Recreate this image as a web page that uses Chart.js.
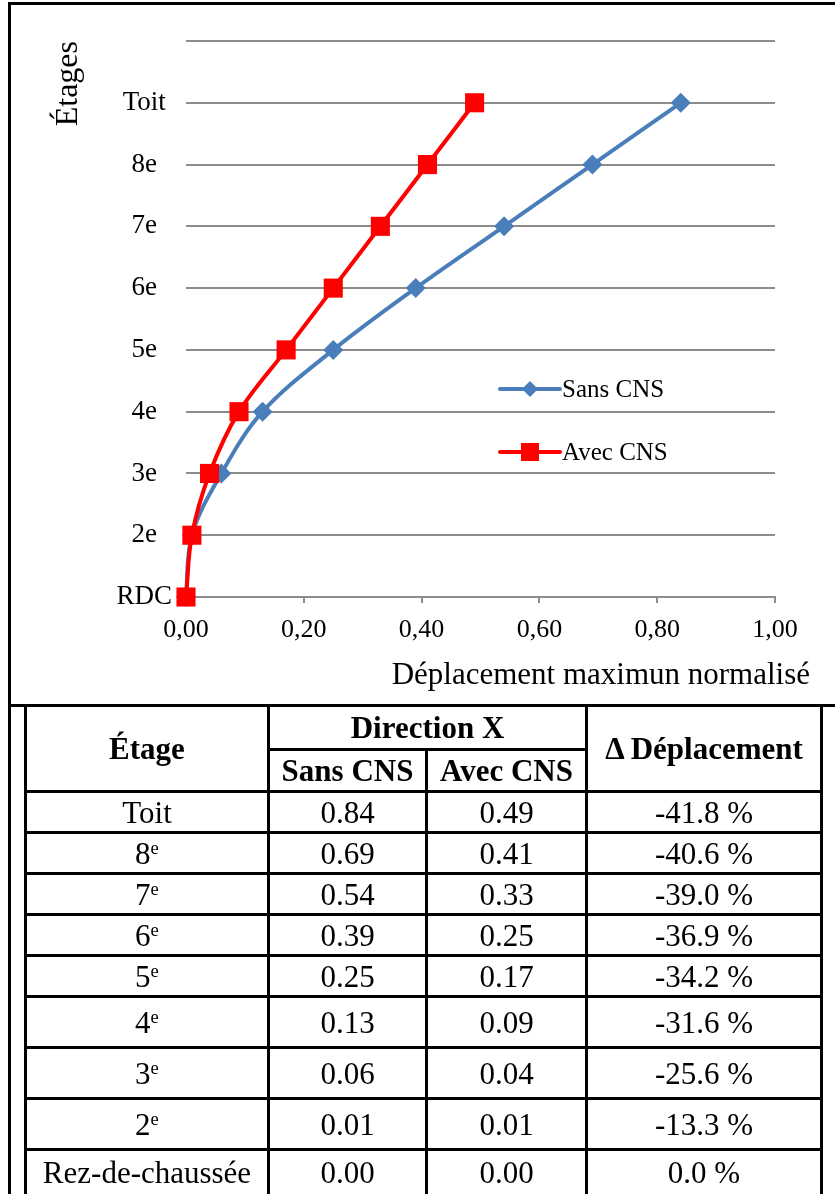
<!DOCTYPE html>
<html>
<head>
<meta charset="utf-8">
<script src="https://cdn.jsdelivr.net/npm/chart.js@4/dist/chart.umd.min.js"></script>
<style>
  body { margin: 0; background: #fff; width: 835px; height: 1194px; overflow: hidden; position: relative; font-family: 'Liberation Serif', 'Times New Roman', serif; }
  #chart_box { position: absolute; left: 0; top: 0; width: 835px; height: 704px; }
  #frame { position: absolute; left: 8px; top: 2px; width: 900px; height: 1300px; border-left: 3px solid #000; border-top: 3px solid #000; }
  #frame_bottom { position: absolute; left: 8px; top: 704px; width: 900px; height: 3px; background: #000; }
  #data_table { position: absolute; left: 24px; top: 704px; border-collapse: collapse; table-layout: fixed; width: 796px; font-size: 31px; }
  #data_table td, #data_table th { border: 3px solid #000; text-align: center; padding: 0; line-height: 1; }
  #data_table th { font-weight: bold; }
  #data_table sup { font-size: 60%; vertical-align: 0.55em; line-height: 0; }
  .h1 { height: 44px; }
  .h2 { height: 42px; }
  .row { height: 41px; }
  .tall { height: 51px; }
  .last { height: 46px; }
</style>
</head>
<body>
<div id="chart_box"><canvas id="drift_chart" width="835" height="704"></canvas></div>
<div id="frame"></div>
<div id="frame_bottom"></div>
<table id="data_table">
  <colgroup><col style="width:243px"><col style="width:158px"><col style="width:160px"><col style="width:235px"></colgroup>
  <thead>
    <tr class="h1"><th rowspan="2">Étage</th><th colspan="2">Direction X</th><th rowspan="2">Δ Déplacement</th></tr>
    <tr class="h2"><th>Sans CNS</th><th>Avec CNS</th></tr>
  </thead>
  <tbody id="table_body"></tbody>
</table>
<script>
// floors, bottom to top (chart axis)
var floorLabels = ['RDC', '2e', '3e', '4e', '5e', '6e', '7e', '8e', 'Toit'];
// same floors, top to bottom (table)
var tableFloors = ['Toit', '8e', '7e', '6e', '5e', '4e', '3e', '2e', 'Rez-de-chaussée'];

// normalised max displacement, RDC -> Toit
var sansCNS = [0.00, 0.01, 0.06, 0.13, 0.25, 0.39, 0.54, 0.69, 0.84];
var avecCNS = [0.00, 0.01, 0.04, 0.09, 0.17, 0.25, 0.33, 0.41, 0.49];

// delta displacement (%), Toit -> RDC
var deltaPct = [-41.8, -40.6, -39.0, -36.9, -34.2, -31.6, -25.6, -13.3, 0.0];

var xTicks = [0, 0.2, 0.4, 0.6, 0.8, 1.0];

var blue = '#4a7ebb';
var red = '#ff0000';
var grid_grey = '#8c8c8c';
var serif = "'Liberation Serif', 'Times New Roman', serif";

function toPoints(values) {
  var pts = [];
  for (let i = 0; i < values.length; i++) {
    pts.push({x: values[i], y: i});
  }
  return pts;
}

// table
var tbody = document.getElementById('table_body');
for (let i = 0; i < tableFloors.length; i++) {
  var idx = tableFloors.length - 1 - i;
  var name = tableFloors[i].replace(/^(\d)e$/, '$1<sup>e</sup>');
  var tr = document.createElement('tr');
  if (i == tableFloors.length - 1) tr.className = 'last';
  else tr.className = (i >= 5) ? 'tall' : 'row';
  tr.innerHTML = '<td>' + name + '</td>' +
    '<td>' + sansCNS[idx].toFixed(2) + '</td>' +
    '<td>' + avecCNS[idx].toFixed(2) + '</td>' +
    '<td>' + deltaPct[i].toFixed(1) + ' %</td>';
  tbody.appendChild(tr);
}

// legend + x title drawn by hand, Excel style
var overlayPlugin = {
  id: 'overlay',
  afterDraw: function(chart) {
    var ctx = chart.ctx;
    var area = chart.chartArea;
    ctx.save();
    ctx.fillStyle = '#000';
    ctx.font = '31px ' + serif;
    ctx.textAlign = 'right';
    ctx.textBaseline = 'middle';
    ctx.fillText('Déplacement maximun normalisé', area.right + 35, 676);

    var items = [chart.data.datasets[1], chart.data.datasets[0]];
    for (let i = 0; i < items.length; i++) {
      var ds = items[i];
      var y = 389 + i * 63;
      var x0 = 500, x1 = 560, xm = 530;
      ctx.strokeStyle = ds.borderColor;
      ctx.lineWidth = 4;
      ctx.lineCap = 'round';
      ctx.beginPath();
      ctx.moveTo(x0, y);
      ctx.lineTo(x1, y);
      ctx.stroke();
      ctx.fillStyle = ds.borderColor;
      ctx.beginPath();
      if (ds.pointStyle == 'rectRot') {
        ctx.moveTo(xm - 8, y);
        ctx.lineTo(xm, y - 8);
        ctx.lineTo(xm + 8, y);
        ctx.lineTo(xm, y + 8);
        ctx.closePath();
      } else {
        ctx.rect(xm - 9, y - 9, 18, 18);
      }
      ctx.fill();
      ctx.fillStyle = '#000';
      ctx.font = '25px ' + serif;
      ctx.textAlign = 'left';
      ctx.fillText(ds.label, x1 + 2, y + 1);
    }
    ctx.restore();
  }
};

var chart_element = document.getElementById('drift_chart').getContext('2d');
var myChart = new Chart(chart_element, {
  type: 'scatter',
  data: {
    datasets: [
      {
        label: 'Avec CNS',
        data: toPoints(avecCNS),
        showLine: true,
        clip: false,
        borderColor: red,
        backgroundColor: red,
        borderWidth: 4,
        tension: 0.35,
        pointStyle: 'rect',
        pointRadius: 13.5,
        pointBorderWidth: 0,
        order: 0
      },
      {
        label: 'Sans CNS',
        data: toPoints(sansCNS),
        showLine: true,
        clip: false,
        borderColor: blue,
        backgroundColor: blue,
        borderWidth: 4,
        tension: 0.35,
        pointStyle: 'rectRot',
        pointRadius: 10,
        pointBorderWidth: 0,
        order: 1
      }
    ]
  },
  plugins: [overlayPlugin],
  options: {
    responsive: false,
    animation: false,
    devicePixelRatio: 1,
    layout: { padding: { left: 0, right: 60, top: 41, bottom: 0 } },
    plugins: {
      legend: { display: false },
      tooltip: { enabled: false }
    },
    scales: {
      x: {
        type: 'linear',
        min: 0,
        max: 1,
        afterFit: function(scale) { scale.height = 107; },
        afterBuildTicks: function(scale) {
          scale.ticks = xTicks.map(function(v) { return {value: v}; });
        },
        ticks: {
          color: '#000',
          font: { family: serif, size: 26 },
          padding: 12,
          maxRotation: 0,
          callback: function(value) {
            return value.toFixed(2).replace('.', ',');
          }
        },
        grid: {
          drawOnChartArea: false,
          drawTicks: true,
          tickLength: 6,
          color: grid_grey,
          lineWidth: 2
        },
        border: { display: true, color: grid_grey, width: 2 }
      },
      y: {
        type: 'linear',
        min: 0,
        max: 9,
        afterFit: function(scale) { scale.width = 186; },
        ticks: {
          stepSize: 1,
          color: '#000',
          font: { family: serif, size: 27 },
          padding: 14,
          crossAlign: 'center',
          callback: function(value) {
            return floorLabels[value] || '';
          }
        },
        grid: {
          drawTicks: false,
          color: grid_grey,
          lineWidth: 2
        },
        border: { display: false },
        title: {
          display: true,
          text: 'Étages',
          align: 'end',
          color: '#000',
          font: { family: serif, size: 32 },
          padding: { top: 49, bottom: 0 }
        }
      }
    }
  }
});
</script>
</body>
</html>
